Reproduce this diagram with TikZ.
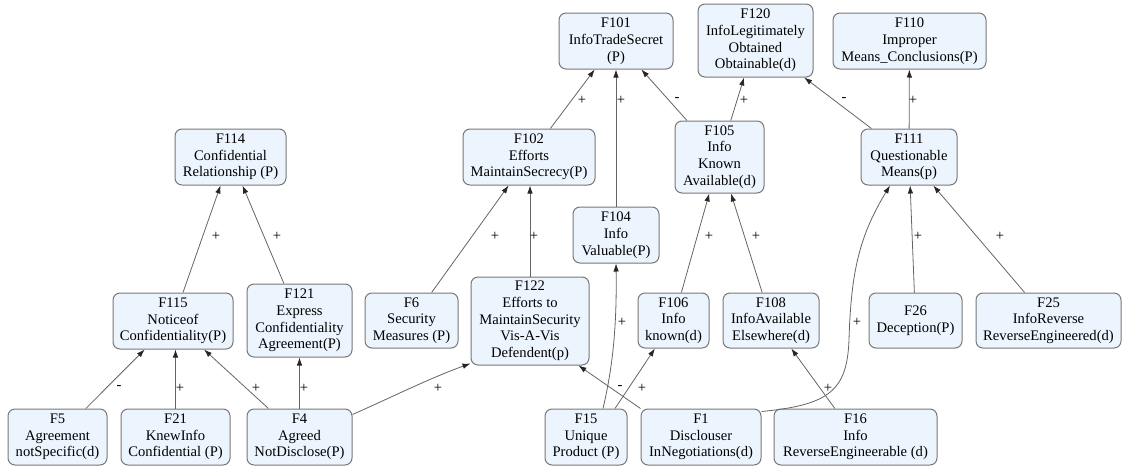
\documentclass[tikz,border=0pt]{standalone}
\usepackage{fontspec}
\setmainfont{Liberation Serif}
\usetikzlibrary{arrows.meta,calc}
\definecolor{boxfill}{RGB}{236,245,253}
\definecolor{boxline}{RGB}{120,120,120}
\definecolor{edgeline}{RGB}{100,100,100}
\tikzset{
  fct/.style={draw=boxline, fill=boxfill, line width=1pt, rounded corners=7pt,
    align=center, inner sep=0pt, font=\fontsize{14.6}{16.7}\selectfont},
  sz/.style 2 args={minimum width=#1pt, minimum height=#2pt},
  link/.style={draw=edgeline, line width=0.8pt,
    -{Latex[length=8pt,width=5.5pt,color=black!85]}},
  sign/.style={inner sep=0pt, font=\fontsize{14.6}{16.7}\selectfont}
}
\begin{document}
\begin{tikzpicture}[x=1pt,y=-1pt]
\useasboundingbox (0,0) rectangle (1122,466);

% factor nodes
\node[fct,sz={111}{56}] (F114) at (230.5,157) {F114\\Confidential\\Relationship (P)};
\node[fct,sz={120}{56}] (F115) at (173,321) {F115\\Noticeof\\Confidentiality(P)};
\node[fct,sz={105}{73}] (F121) at (299.5,320.5) {F121\\Express\\Confidentiality\\Agreement(P)};
\node[fct,sz={99}{56}] (F5) at (57.5,437) {F5\\Agreement\\notSpecific(d)};
\node[fct,sz={109}{56}] (F21) at (175.5,437) {F21\\KnewInfo\\Confidential (P)};
\node[fct,sz={105}{56}] (F4) at (299.5,437) {F4\\Agreed\\NotDisclose(P)};
\node[fct,sz={114}{56}] (F101) at (616,41) {F101\\InfoTradeSecret\\(P)};
\node[fct,sz={132}{56}] (F102) at (529,157) {F102\\Efforts\\MaintainSecrecy(P)};
\node[fct,sz={86}{56}] (F104) at (616,235) {F104\\Info\\Valuable(P)};
\node[fct,sz={93}{55}] (F6) at (411.5,320.5) {F6\\Security\\Measures (P)};
\node[fct,sz={118}{88}] (F122) at (530,321) {F122\\Efforts to\\MaintainSecurity\\Vis-A-Vis\\Defendent(p)};
\node[fct,sz={82}{56}] (F15) at (586,437) {F15\\Unique\\Product (P)};
\node[fct,sz={115}{73}] (F120) at (755.5,40.5) {F120\\InfoLegitimately\\Obtained\\Obtainable(d)};
\node[fct,sz={153}{56}] (F110) at (909.5,41) {F110\\Improper\\Means\_Conclusions(P)};
\node[fct,sz={89}{72}] (F105) at (719.5,157) {F105\\Info\\Known\\Available(d)};
\node[fct,sz={96}{56}] (F111) at (909,157) {F111\\Questionable\\Means(p)};
\node[fct,sz={71}{55}] (F106) at (673.5,320.5) {F106\\Info\\known(d)};
\node[fct,sz={96}{55}] (F108) at (771,320.5) {F108\\InfoAvailable\\Elsewhere(d)};
\node[fct,sz={93}{55}] (F26) at (915.5,320.5) {F26\\Deception(P)};
\node[fct,sz={145}{55}] (F25) at (1048.5,320.5) {F25\\InfoReverse\\ReverseEngineered(d)};
\node[fct,sz={120}{56}] (F1) at (701,437) {F1\\Disclouser\\InNegotiations(d)};
\node[fct,sz={163}{56}] (F16) at (855.5,437) {F16\\Info\\ReverseEngineerable (d)};

% support links
\draw[link] (F115) -- (F114);
\draw[link] (F121) -- (F114);
\draw[link] (F5) -- (F115);
\draw[link] (F21.north) -- (F21.north |- F115.south);
\draw[link] (F4) -- (F115);
\draw[link] (F4) -- (F121);
\draw[link] ($(F4.north east)+(0,6)$) .. controls (390,398) and (430,378) .. ($(F122.south west)+(0,-2)$);
\draw[link] (F6) -- (F102);
\draw[link] (F122.north) -- (F122.north |- F102.south);
\draw[link] (F102) -- (F101);
\draw[link] (F104) -- (F101);
\draw[link] (F105) -- (F101);
\draw[link] (F105) -- (F120);
\draw[link] (F111) -- (F120);
\draw[link] (F111) -- (F110);
\draw[link] ($(F15.north)+(17,0)$) .. controls (612,370) and (617,330) .. (F104.south);
\draw[link] ($(F15.north)+(29,0)$) -- (F106);
\draw[link] (F1.north west) -- ($(F122.south east)+(-11,0)$);
\draw[link] (F106) -- (F105);
\draw[link] (F108) -- (F105);
\draw[link] ($(F1.north east)+(0,3)$) .. controls (830,405) and (847,390) .. (849,340)
  .. controls (851,270) and (860,235) .. ($(F111.south)+(-19,0)$);
\draw[link] (F16) -- (F108);
\draw[link] (F26) -- (F111);
\draw[link] (F25) -- (F111);

% link signs
\node[sign] (s1) at (216,236) {+};
\node[sign] (s2) at (277,236) {+};
\node[sign] (s3) at (119,388) {-};
\node[sign] (s4) at (180,388) {+};
\node[sign] (s5) at (256,388) {+};
\node[sign] (s6) at (304,388) {+};
\node[sign] (s7) at (438,388) {+};
\node[sign] (s8) at (495,236) {+};
\node[sign] (s9) at (534,236) {+};
\node[sign] (s10) at (582,100) {+};
\node[sign] (s11) at (621,100) {+};
\node[sign] (s12) at (677,100) {-};
\node[sign] (s13) at (744,100) {+};
\node[sign] (s14) at (844,100) {-};
\node[sign] (s15) at (913,100) {+};
\node[sign] (s16) at (622,322) {+};
\node[sign] (s17) at (620,388) {-};
\node[sign] (s18) at (642,388) {+};
\node[sign] (s19) at (709,236) {+};
\node[sign] (s20) at (756,236) {+};
\node[sign] (s21) at (857,322) {+};
\node[sign] (s22) at (828,388) {+};
\node[sign] (s23) at (918,236) {+};
\node[sign] (s24) at (1000,236) {+};
\end{tikzpicture}
\end{document}
